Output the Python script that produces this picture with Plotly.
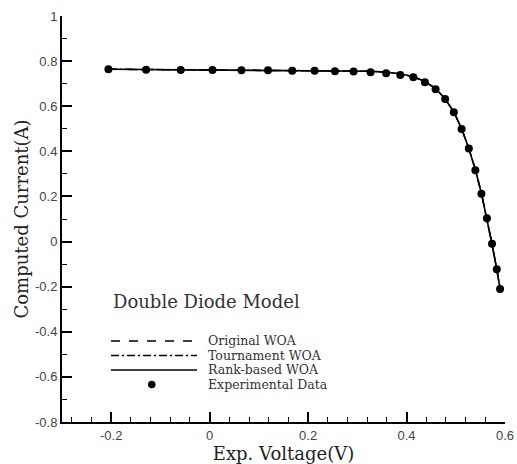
import plotly.graph_objects as go

# ---- data ----
voltage = [-0.2057, -0.1291, -0.0588, 0.0057, 0.0646, 0.1185, 0.1678, 0.2132,
           0.2545, 0.2924, 0.3269, 0.3585, 0.3873, 0.4137, 0.4373, 0.4590,
           0.4784, 0.4960, 0.5119, 0.5265, 0.5398, 0.5521, 0.5633, 0.5736,
           0.5833, 0.5900]
exp_current = [0.7640, 0.7620, 0.7605, 0.7605, 0.7600, 0.7590, 0.7570, 0.7570,
               0.7555, 0.7540, 0.7505, 0.7465, 0.7385, 0.7280, 0.7065, 0.6755,
               0.6320, 0.5730, 0.4990, 0.4130, 0.3165, 0.2120, 0.1035, -0.0100,
               -0.1230, -0.2100]
original_woa = [0.7640, 0.7627, 0.7613, 0.7606, 0.7600, 0.7595, 0.7590, 0.7586,
                0.7580, 0.7570, 0.7550, 0.7510, 0.7437, 0.7311, 0.7100, 0.6785,
                0.6330, 0.5745, 0.5001, 0.4131, 0.3182, 0.2139, 0.1034, -0.0108,
                -0.1233, -0.2083]
tournament_woa = [0.7640, 0.7627, 0.7613, 0.7606, 0.7600, 0.7595, 0.7590, 0.7586,
                  0.7580, 0.7570, 0.7550, 0.7510, 0.7437, 0.7311, 0.7100, 0.6785,
                  0.6330, 0.5745, 0.5001, 0.4131, 0.3182, 0.2139, 0.1034, -0.0108,
                  -0.1233, -0.2083]
rank_woa = [0.7640, 0.7627, 0.7613, 0.7606, 0.7600, 0.7595, 0.7590, 0.7586,
            0.7580, 0.7570, 0.7550, 0.7510, 0.7437, 0.7311, 0.7100, 0.6785,
            0.6330, 0.5745, 0.5001, 0.4131, 0.3182, 0.2139, 0.1034, -0.0108,
            -0.1233, -0.2083]

x_tickvals = [-0.2, 0, 0.2, 0.4, 0.6]
x_ticktext = ["-0.2", "0", "0.2", "0.4", "0.6"]
y_tickvals = [-0.8, -0.6, -0.4, -0.2, 0, 0.2, 0.4, 0.6, 0.8, 1]
y_ticktext = ["-0.8", "-0.6", "-0.4", "-0.2", "0", "0.2", "0.4", "0.6", "0.8", "1"]

legend_title = "Double Diode Model"
series_names = ["Original WOA", "Tournament WOA", "Rank-based WOA", "Experimental Data"]

# ---- figure ----
W, H = 517, 464
L, R, T, B = 62, 12, 16, 42
pw, ph = W - L - R, H - T - B

def px(xp):
    return (xp - L) / pw

def py(yp):
    return 1 - (yp - T) / ph

SERIF = "DejaVu Serif, Liberation Serif, serif"
SANS = "Liberation Sans, Arial, sans-serif"

fig = go.Figure()
fig.add_trace(go.Scatter(x=voltage, y=original_woa, mode="lines", name=series_names[0],
                         line=dict(color="black", width=1.5, dash="dash")))
fig.add_trace(go.Scatter(x=voltage, y=tournament_woa, mode="lines", name=series_names[1],
                         line=dict(color="black", width=1.5, dash="8px,3px,2px,3px")))
fig.add_trace(go.Scatter(x=voltage, y=rank_woa, mode="lines", name=series_names[2],
                         line=dict(color="black", width=1.6)))
fig.add_trace(go.Scatter(x=voltage, y=exp_current, mode="markers", name=series_names[3],
                         marker=dict(color="black", size=8, symbol="circle")))

# custom legend (line samples + labels)
dashes = ["dash", "8px,3px,2px,3px", "solid"]
row_y = [341, 355.5, 370, 384.5]
x0p, x1p, xtext = 111, 197, 207
annotations = [dict(xref="paper", yref="paper", x=px(111), y=py(301), xanchor="left",
                    yanchor="middle", text=legend_title, showarrow=False,
                    font=dict(family=SERIF, size=18, color="#333"))]
shapes = []
for i in range(3):
    shapes.append(dict(type="line", xref="paper", yref="paper",
                       x0=px(x0p), x1=px(x1p), y0=py(row_y[i]), y1=py(row_y[i]),
                       line=dict(color="black", width=1.5, dash=dashes[i])))
for i in range(4):
    annotations.append(dict(xref="paper", yref="paper", x=px(xtext), y=py(row_y[i] - 0.5),
                            xanchor="left", yanchor="middle", text=series_names[i],
                            showarrow=False, borderpad=0,
                            font=dict(family=SERIF, size=12.5, color="#333")))
shapes.append(dict(type="circle", xref="paper", yref="paper",
                   x0=px(148), x1=px(155.5), y0=py(row_y[3] - 3.75), y1=py(row_y[3] + 3.75),
                   fillcolor="black", line=dict(color="black", width=0)))

fig.update_layout(
    width=W, height=H,
    margin=dict(l=L, r=R, t=T, b=B),
    paper_bgcolor="white", plot_bgcolor="white",
    showlegend=False,
    shapes=shapes, annotations=annotations,
    xaxis=dict(range=[-0.3, 0.6], tickvals=x_tickvals, ticktext=x_ticktext,
               automargin=False,
               showline=True, linecolor="black", linewidth=2, mirror=False,
               showgrid=False, zeroline=False,
               ticks="inside", ticklen=10, tickwidth=1.5, tickcolor="black",
               minor=dict(dtick=0.04, tick0=0, ticks="inside", ticklen=5,
                          tickwidth=1, tickcolor="black", showgrid=False),
               tickfont=dict(family=SANS, size=13, color="#444"),
               title=dict(text="Exp. Voltage(V)", standoff=2,
                          font=dict(family=SERIF, size=18, color="#222"))),
    yaxis=dict(range=[-0.8, 1], tickvals=y_tickvals, ticktext=y_ticktext,
               automargin=False,
               showline=True, linecolor="black", linewidth=2, mirror=False,
               showgrid=False, zeroline=False,
               ticks="inside", ticklen=10, tickwidth=1.5, tickcolor="black",
               minor=dict(dtick=0.1, tick0=0, ticks="inside", ticklen=5,
                          tickwidth=1, tickcolor="black", showgrid=False),
               tickfont=dict(family=SANS, size=13, color="#444"),
               title=dict(text="Computed Current(A)", standoff=2,
                          font=dict(family=SERIF, size=18, color="#222"))),
)

fig.write_html("out.html", config={"displayModeBar": False},
               post_script="document.body.style.margin='0';document.body.style.overflow='hidden';")
